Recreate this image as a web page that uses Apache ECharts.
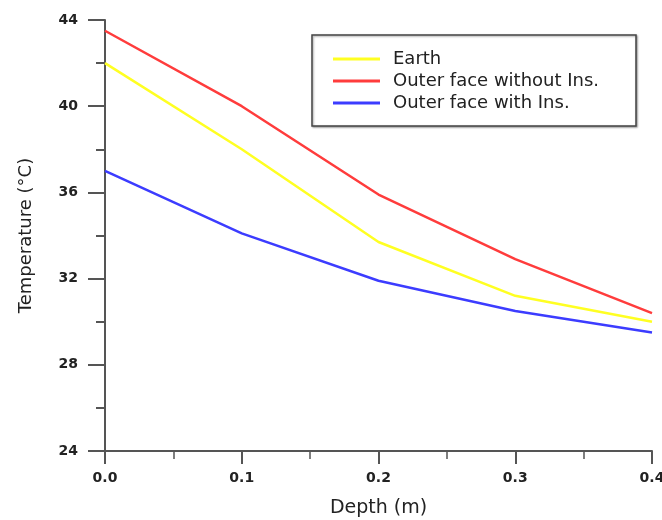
<!DOCTYPE html>
<html>
<head>
<meta charset="utf-8">
<script src="https://cdn.jsdelivr.net/npm/echarts@6/dist/echarts.min.js"></script>
<style>
  html, body {margin: 0; padding: 0; background: #fff;}
  #chart {width: 662px; height: 520px;}
</style>
</head>
<body>
<div id="chart"></div>
<script>
// depth (m) and temperature (°C)
const depth = [0.0, 0.1, 0.2, 0.3, 0.4];
const earth = [42.0, 38.0, 33.7, 31.2, 30.0];
const outerNoIns = [43.5, 40.0, 35.9, 32.9, 30.4];
const outerWithIns = [37.0, 34.1, 31.9, 30.5, 29.5];
const seriesNames = ['Earth', 'Outer face without Ins.', 'Outer face with Ins.'];

const pairs = (ys) => depth.map((x, i) => [x, ys[i]]);

const chart = echarts.init(document.getElementById('chart'));
const font = 'Tahoma, "DejaVu Sans", sans-serif';
const tickFont = '"DejaVu Sans", sans-serif';
const axisColor = '#555';

chart.setOption({
  animation: false,
  grid: {left: 105, right: 10, top: 20, bottom: 69, containLabel: false, outerBoundsMode: 'none'},
  graphic: [{
    type: 'rect',
    shape: {x: 312, y: 35, width: 324, height: 91},
    style: {fill: '#fff', stroke: '#444', lineWidth: 1.5,
      shadowBlur: 2, shadowOffsetX: 1, shadowOffsetY: 1, shadowColor: 'rgba(0,0,0,0.35)'},
    z: 10
  }],
  legend: {
    orient: 'vertical',
    left: 333,
    top: 50,
    padding: 0,
    z: 20,
    icon: 'rect',
    itemWidth: 47,
    itemHeight: 3,
    itemGap: 4,
    textStyle: {fontFamily: font, fontSize: 18, color: '#222', padding: [0, 0, 0, 8]},
    data: seriesNames
  },
  xAxis: {
    type: 'value',
    min: 0, max: 0.4, interval: 0.1,
    name: 'Depth (m)',
    nameLocation: 'middle',
    nameGap: 48,
    nameTextStyle: {fontFamily: font, fontSize: 19, color: '#222'},
    axisLine: {show: true, onZero: false, lineStyle: {color: axisColor, width: 2}},
    axisTick: {show: true, length: 13, lineStyle: {color: axisColor, width: 2}},
    minorTick: {show: true, splitNumber: 2, length: 8, lineStyle: {color: axisColor, width: 1.5}},
    axisLabel: {margin: 20, fontFamily: tickFont, fontSize: 14,
      fontWeight: 'bold', color: '#222', formatter: (v) => v.toFixed(1)},
    splitLine: {show: false}
  },
  yAxis: {
    type: 'value',
    min: 24, max: 44, interval: 4,
    name: 'Temperature (°C)',
    nameLocation: 'middle',
    nameGap: 70,
    nameTextStyle: {fontFamily: font, fontSize: 18, color: '#222'},
    axisLine: {show: true, lineStyle: {color: axisColor, width: 2}},
    axisTick: {show: true, length: 17, lineStyle: {color: axisColor, width: 2}},
    minorTick: {show: true, splitNumber: 2, length: 9, lineStyle: {color: axisColor, width: 2}},
    axisLabel: {margin: 27, fontFamily: tickFont, fontSize: 14,
      fontWeight: 'bold', color: '#222'},
    splitLine: {show: false}
  },
  series: [
    {name: seriesNames[0], type: 'line', data: pairs(earth), showSymbol: false,
      color: '#ffff22', lineStyle: {width: 2.5}},
    {name: seriesNames[1], type: 'line', data: pairs(outerNoIns), showSymbol: false,
      color: '#ff3c3c', lineStyle: {width: 2.5}},
    {name: seriesNames[2], type: 'line', data: pairs(outerWithIns), showSymbol: false,
      color: '#3c3cff', lineStyle: {width: 2.5}}
  ]
});
</script>
</body>
</html>
